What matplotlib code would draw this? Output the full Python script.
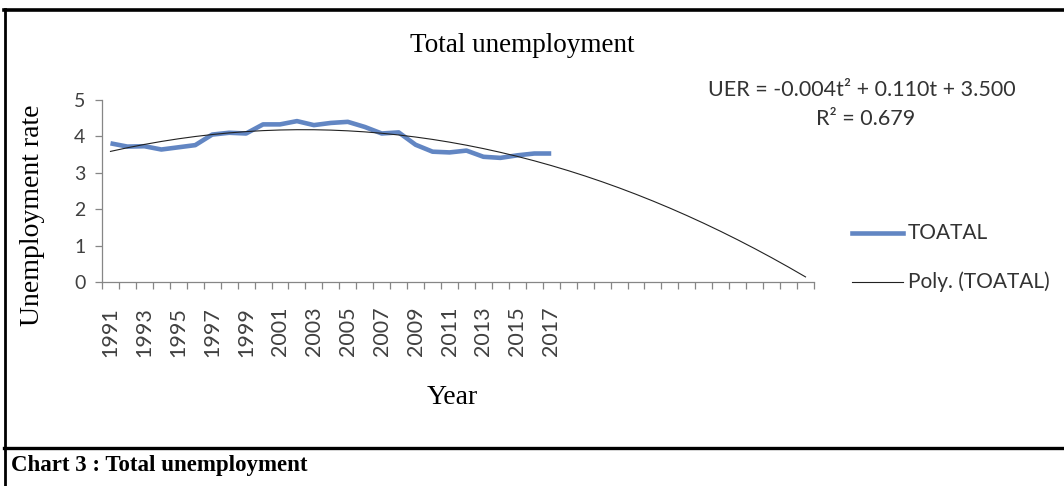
import numpy as np
import matplotlib
matplotlib.use("Agg")
import matplotlib.pyplot as plt
from matplotlib.lines import Line2D

# Total unemployment rate, 1991-2017
years = list(range(1991, 2018))
total = [3.81, 3.72, 3.73, 3.64, 3.70, 3.76, 4.05, 4.10, 4.08, 4.33,
         4.33, 4.42, 4.31, 4.37, 4.40, 4.26, 4.08, 4.11, 3.77, 3.58,
         3.56, 3.61, 3.44, 3.41, 3.48, 3.53, 3.53]
forecast_periods = 15
tick_years = [str(y) for y in range(1991, 2018, 2)]
yticks = [0, 1, 2, 3, 4, 5]
equation_text = "UER = -0.004t\u00b2 + 0.110t + 3.500"
r2_text = "R\u00b2 = 0.679"

SANS = ["Lato", "DejaVu Sans"]
SERIF = ["Liberation Serif", "DejaVu Serif"]
BLUE = "#5179BD"
AXIS_GRAY = "#868686"
TEXT_GRAY = "#333333"

fig = plt.figure(figsize=(10.64, 4.86), dpi=100)
W, H = 1064, 486

def fx(px):
    return px / W

def fy(py):
    return 1 - py / H

ax = fig.add_axes([fx(102), fy(282), fx(814) - fx(102), fy(100) - fy(282)])

n = len(total)
t = np.arange(1, n + 1)
coef = np.polyfit(t, total, 2)
t_all = np.arange(1, n + forecast_periods + 1)
trend = np.polyval(coef, t_all)

ax.plot(t - 1, total, color=BLUE, lw=3.3, alpha=0.9, solid_capstyle="butt",
        solid_joinstyle="round", zorder=2)
ax.plot(t_all - 1, trend, color="#222222", lw=0.8, zorder=3)

n_cat = n + forecast_periods
ax.set_xlim(-0.5, n_cat - 0.5)
ax.set_ylim(0, 5)

for side in ("top", "right"):
    ax.spines[side].set_visible(False)
for side in ("left", "bottom"):
    ax.spines[side].set_color(AXIS_GRAY)
    ax.spines[side].set_linewidth(0.9)

ax.set_yticks(yticks)
ax.set_yticklabels([str(v) for v in yticks], fontfamily=SANS, fontsize=14,
                   color="#404040")
ax.tick_params(axis="y", direction="out", length=5, width=0.9,
               color=AXIS_GRAY, pad=7)

# tick marks sit between categories, labels at every other category
ax.set_xticks(np.arange(-0.5, n_cat, 1.0))
ax.set_xticklabels([])
ax.tick_params(axis="x", direction="out", length=5, width=0.9,
               color=AXIS_GRAY)
for i, lab in enumerate(tick_years):
    ax.text(2 * i, -0.68, lab, rotation=90, ha="center", va="top",
            fontfamily=SANS, fontsize=15.5, color="#404040",
            transform=ax.transData)

# titles and labels
fig.text(fx(522), fy(46), "Total unemployment", ha="center", va="center",
         fontfamily=SERIF, fontsize=19.5)
fig.text(fx(33), fy(215), "Unemployment rate", rotation=90, ha="center",
         va="center", fontfamily=SERIF, fontsize=20)
fig.text(fx(452), fy(397), "Year", ha="center", va="center",
         fontfamily=SERIF, fontsize=20)

fig.text(fx(862), fy(90), equation_text, ha="center", va="center",
         fontfamily=SANS, fontsize=15.5, color=TEXT_GRAY)
fig.text(fx(866), fy(119), r2_text, ha="center", va="center",
         fontfamily=SANS, fontsize=15.5, color=TEXT_GRAY)

# legend
fig.add_artist(Line2D([fx(852), fx(903)], [fy(233), fy(233)], color=BLUE,
                      lw=3.3, alpha=0.9))
fig.text(fx(908), fy(233), "TOATAL", ha="left", va="center",
         fontfamily=SANS, fontsize=15, color=TEXT_GRAY)
fig.add_artist(Line2D([fx(852), fx(903)], [fy(282), fy(282)],
                      color="#222222", lw=0.8))
fig.text(fx(908), fy(282), "Poly. (TOATAL)", ha="left", va="center",
         fontfamily=SANS, fontsize=15, color=TEXT_GRAY)

# frame and caption
fig.add_artist(Line2D([fx(4), fx(1064)], [fy(10), fy(10)], color="black",
                      lw=2.6))
fig.add_artist(Line2D([fx(5), fx(5)], [fy(9), fy(486)], color="black",
                      lw=2.0))
fig.add_artist(Line2D([fx(4), fx(1064)], [fy(448), fy(448)], color="black",
                      lw=2.4))
fig.text(fx(11), fy(465), "Chart 3 : Total unemployment", ha="left",
         va="center", fontfamily=SERIF, fontsize=16.5, fontweight="bold")

fig.savefig("out.png", dpi=100)
